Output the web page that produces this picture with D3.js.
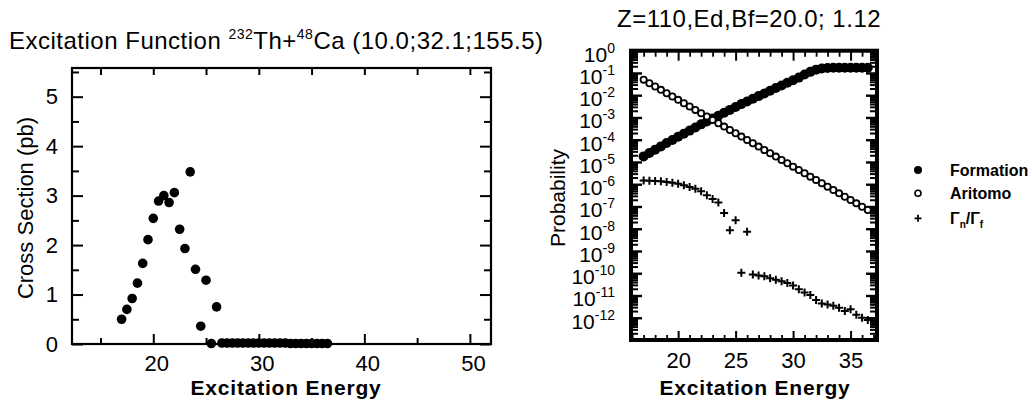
<!DOCTYPE html>
<html><head><meta charset="utf-8">
<script src="https://cdn.jsdelivr.net/npm/d3@7"></script>
<style>
body{margin:0;background:#fff}
svg{display:block}
text{font-family:"Liberation Sans",Arial,Helvetica,sans-serif;fill:#000}
</style>
</head><body>
<svg id="chart" width="1032" height="400"></svg>
<script>
// ---------- data ----------
const energy = [17.0,17.5,18.0,18.5,19.0,19.5,20.0,20.5,21.0,21.5,22.0,22.5,23.0,23.5,24.0,24.5,25.0,25.5,26.0,26.5,
  27.0,27.5,28.0,28.5,29.0,29.5,30.0,30.5,31.0,31.5,32.0,32.5,33.0,33.5,34.0,34.5,35.0,35.5,36.0,36.5];
const crossSection = [0.50,0.70,0.92,1.23,1.63,2.11,2.54,2.89,3.00,2.86,3.06,2.32,1.93,3.48,1.51,0.36,1.29,0.01,0.75,0.02,
  0.02,0.02,0.02,0.02,0.02,0.02,0.02,0.02,0.02,0.02,0.02,0.02,0.01,0.01,0.01,0.01,0.01,0.01,0.01,0.01];
const formation = [1.78e-5,2.51e-5,3.55e-5,5.01e-5,7.08e-5,9.77e-5,1.35e-4,1.86e-4,2.57e-4,3.55e-4,4.90e-4,6.61e-4,8.91e-4,1.20e-3,
  1.62e-3,2.19e-3,2.95e-3,3.98e-3,5.25e-3,6.92e-3,9.12e-3,1.20e-2,1.58e-2,2.09e-2,2.75e-2,3.63e-2,4.68e-2,6.17e-2,8.51e-2,0.112,
  0.141,0.158,0.166,0.170,0.170,0.170,0.170,0.170,0.170,0.170];
const aritomo = [5.01e-2,3.47e-2,2.45e-2,1.74e-2,1.23e-2,8.71e-3,6.17e-3,4.37e-3,3.09e-3,2.19e-3,1.55e-3,1.10e-3,7.76e-4,5.50e-4,
  3.89e-4,2.75e-4,1.95e-4,1.38e-4,9.77e-5,6.92e-5,4.90e-5,3.47e-5,2.45e-5,1.74e-5,1.23e-5,8.71e-6,6.17e-6,4.37e-6,3.09e-6,2.19e-6,
  1.55e-6,1.10e-6,7.76e-7,5.50e-7,3.89e-7,2.75e-7,1.95e-7,1.38e-7,9.77e-8,6.92e-8];
const gammaRatio = [1.48e-6,1.45e-6,1.41e-6,1.35e-6,1.26e-6,1.17e-6,1.05e-6,8.91e-7,7.59e-7,6.31e-7,4.79e-7,3.16e-7,2.19e-7,1.51e-7,
  5.13e-8,8.51e-9,2.40e-8,1.05e-10,7.24e-9,8.71e-11,7.94e-11,7.24e-11,6.03e-11,5.13e-11,4.37e-11,3.63e-11,2.82e-11,1.91e-11,1.38e-11,1.05e-11,
  6.31e-12,4.37e-12,3.98e-12,3.47e-12,2.82e-12,2.00e-12,2.40e-12,1.38e-12,1.00e-12,7.94e-13];

const leftXMajor = [20,30,40,50];
const leftXMinor = [15,25,35,45];
const leftYMajor = [0,1,2,3,4,5];
const leftYMinor = [0.5,1.5,2.5,3.5,4.5,5.5];
const rightXMajor = [20,25,30,35];
const rightXMinor = [16,17,18,19,21,22,23,24,26,27,28,29,31,32,33,34,36,37];
const rightYExponents = [0,-1,-2,-3,-4,-5,-6,-7,-8,-9,-10,-11,-12];
const legendLabels = ["Formation","Aritomo","Γn/Γf"];

const leftTitle = "Excitation Function";
const rightTitle = "Z=110,Ed,Bf=20.0; 1.12";

// ---------- drawing ----------
const svg = d3.select("#chart");

function tickAxis(sel, gen, w) {
  sel.call(gen);
  sel.select(".domain").remove();
  sel.selectAll("line").attr("stroke", "#000").attr("stroke-width", w);
  return sel;
}

// ===== Left chart =====
const xL = d3.scaleLinear().domain([12.3, 52]).range([72, 491]);
const yL = d3.scaleLinear().domain([0, 5.58]).range([344, 68]);

const gL = svg.append("g");
tickAxis(gL.append("g").attr("transform","translate(0,344)"), d3.axisBottom(xL).tickValues(leftXMinor).tickSize(-6).tickFormat(""), 2);
const bx = tickAxis(gL.append("g").attr("transform","translate(0,344)"), d3.axisBottom(xL).tickValues(leftXMajor).tickSize(-10).tickPadding(11).tickFormat(d3.format("d")), 2);
bx.selectAll("text").attr("font-size", 22).attr("fill","#000").attr("dx", 3);
tickAxis(gL.append("g").attr("transform","translate(0,68)"), d3.axisTop(xL).tickValues(leftXMinor.concat(leftXMajor)).tickSize(-7).tickFormat(""), 2);
tickAxis(gL.append("g").attr("transform","translate(72,0)"), d3.axisLeft(yL).tickValues(leftYMinor).tickSize(-7).tickFormat(""), 2);
const ly = tickAxis(gL.append("g").attr("transform","translate(72,0)"), d3.axisLeft(yL).tickValues(leftYMajor).tickSize(-11).tickPadding(14).tickFormat(d3.format("d")), 2);
ly.selectAll("text").attr("font-size", 22).attr("fill","#000");
tickAxis(gL.append("g").attr("transform","translate(491,0)"), d3.axisRight(yL).tickValues(leftYMinor).tickSize(-7).tickFormat(""), 2);
tickAxis(gL.append("g").attr("transform","translate(491,0)"), d3.axisRight(yL).tickValues(leftYMajor).tickSize(-11).tickFormat(""), 2);
gL.append("rect").attr("x",72).attr("y",68).attr("width",491-72).attr("height",344-68)
  .attr("fill","none").attr("stroke","#000").attr("stroke-width",2.2);

gL.selectAll("circle.cs").data(energy).join("circle").attr("class","cs")
  .attr("cx", d => xL(d)).attr("cy", (d,i) => yL(crossSection[i])).attr("r", 4.8).attr("fill","#000");

// titles
const t1 = svg.append("text").attr("x", 9).attr("y", 49).attr("font-size", 24).attr("letter-spacing", 0.5);
t1.append("tspan").text(leftTitle + " ");
t1.append("tspan").text("232").attr("font-size", 14).attr("dy", -10);
t1.append("tspan").text("Th+").attr("dy", 10);
t1.append("tspan").text("48").attr("font-size", 14).attr("dy", -10);
t1.append("tspan").text("Ca (10.0;32.1;155.5)").attr("dy", 10);

svg.append("text").attr("transform","translate(25,208) rotate(-90)").attr("text-anchor","middle")
  .attr("dominant-baseline","central").attr("font-size",22).text("Cross Section (pb)");
svg.append("text").attr("x",286).attr("y",395).attr("text-anchor","middle").attr("font-size",21)
  .attr("font-weight","bold").attr("letter-spacing",0.8).text("Excitation Energy");

// ===== Right chart =====
const xR = d3.scaleLinear().domain([15.9, 37.3]).range([631, 877]);
const yR = d3.scaleLog().domain([1e-13, 1]).range([340, 50.7]);
const gR = svg.append("g");

tickAxis(gR.append("g").attr("transform","translate(0,340)"), d3.axisBottom(xR).tickValues(rightXMinor).tickSize(-5).tickFormat(""), 1.8);
const rbx = tickAxis(gR.append("g").attr("transform","translate(0,340)"), d3.axisBottom(xR).tickValues(rightXMajor).tickSize(-9).tickPadding(12).tickFormat(d3.format("d")), 2);
rbx.selectAll("text").attr("font-size", 22).attr("fill","#000");
tickAxis(gR.append("g").attr("transform","translate(0,50.7)"), d3.axisTop(xR).tickValues(rightXMinor).tickSize(-6).tickFormat(""), 1.8);
tickAxis(gR.append("g").attr("transform","translate(0,50.7)"), d3.axisTop(xR).tickValues(rightXMajor).tickSize(-10).tickFormat(""), 2);

const majorsY = rightYExponents.map(e => Math.pow(10, e)).concat([1e-13]);
const minorsY = [];
for (let e = -13; e < 0; e++) for (let m = 2; m <= 9; m++) minorsY.push(m * Math.pow(10, e));
tickAxis(gR.append("g").attr("transform","translate(631,0)"), d3.axisLeft(yR).tickValues(minorsY).tickSize(-7).tickFormat(""), 2);
tickAxis(gR.append("g").attr("transform","translate(631,0)"), d3.axisLeft(yR).tickValues(majorsY).tickSize(-11).tickFormat(""), 2.4);
tickAxis(gR.append("g").attr("transform","translate(877,0)"), d3.axisRight(yR).tickValues(minorsY).tickSize(-7).tickFormat(""), 2);
tickAxis(gR.append("g").attr("transform","translate(877,0)"), d3.axisRight(yR).tickValues(majorsY).tickSize(-11).tickFormat(""), 2.4);
gR.append("rect").attr("x",631).attr("y",50.7).attr("width",877-631).attr("height",340-50.7)
  .attr("fill","none").attr("stroke","#000").attr("stroke-width",4);

// y labels 10^e
const ylab = gR.selectAll("text.ylab").data(rightYExponents).join("text").attr("class","ylab")
  .attr("x", 615).attr("y", e => yR(Math.pow(10, e)) + 11).attr("text-anchor","end");
ylab.append("tspan").attr("font-size", 21).text("10");
ylab.append("tspan").attr("font-size", 14).attr("dy", -9).text(e => String(e));

// series
gR.selectAll("circle.fo").data(energy).join("circle").attr("class","fo")
  .attr("cx", d => xR(d)).attr("cy", (d,i) => yR(formation[i])).attr("r", 5).attr("fill","#000");
gR.selectAll("circle.ar").data(energy).join("circle").attr("class","ar")
  .attr("cx", d => xR(d)).attr("cy", (d,i) => yR(aritomo[i])).attr("r", 3.1).attr("fill","#fff")
  .attr("stroke","#000").attr("stroke-width",1.8);
gR.selectAll("path.gr").data(energy).join("path").attr("class","gr")
  .attr("transform", (d,i) => `translate(${xR(d)},${yR(gammaRatio[i])})`)
  .attr("d", "M-4,0H4M0,-4V4").attr("stroke","#000").attr("stroke-width",2);

svg.append("text").attr("x", 617).attr("y", 27).attr("font-size", 24).attr("letter-spacing", 0.5).text(rightTitle);
svg.append("text").attr("transform","translate(557,198) rotate(-90)").attr("text-anchor","middle")
  .attr("dominant-baseline","central").attr("font-size",21).text("Probability");
svg.append("text").attr("x",755).attr("y",395).attr("text-anchor","middle").attr("font-size",21)
  .attr("font-weight","bold").attr("letter-spacing",0.8).text("Excitation Energy");

// ===== Legend =====
const legY = [170, 193.3, 218.3];
const lg = svg.append("g");
lg.append("circle").attr("cx",918).attr("cy",legY[0]).attr("r",4).attr("fill","#000");
lg.append("circle").attr("cx",918).attr("cy",legY[1]).attr("r",3).attr("fill","#fff").attr("stroke","#000").attr("stroke-width",1.6);
lg.append("path").attr("transform",`translate(918,${legY[2]})`).attr("d","M-3.5,0H3.5M0,-3.5V3.5").attr("stroke","#000").attr("stroke-width",1.8);
lg.append("text").attr("x",950).attr("y",legY[0]+6).attr("font-size",16).attr("font-weight","bold").text(legendLabels[0]);
lg.append("text").attr("x",950).attr("y",legY[1]+6).attr("font-size",16).attr("font-weight","bold").text(legendLabels[1]);
const gt = lg.append("text").attr("x",950).attr("y",legY[2]+6).attr("font-size",16).attr("font-weight","bold");
gt.append("tspan").text("Γ");
gt.append("tspan").attr("font-size",10).attr("dy",4).text("n");
gt.append("tspan").attr("dy",-4).text("/Γ");
gt.append("tspan").attr("font-size",10).attr("dy",4).text("f");
</script>
</body></html>
